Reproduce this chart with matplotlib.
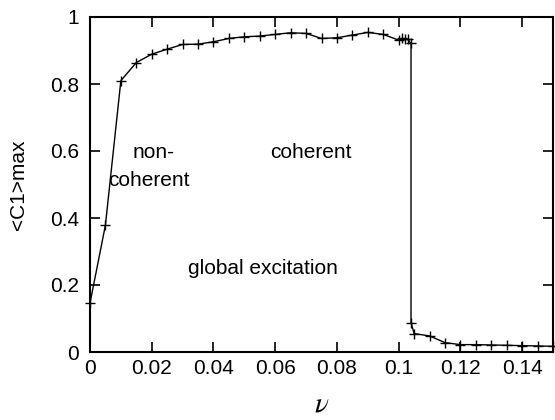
import matplotlib
matplotlib.use("Agg")
import matplotlib.pyplot as plt

plt.rcParams['font.family'] = ['Liberation Sans', 'DejaVu Sans']
plt.rcParams['mathtext.fontset'] = 'stix'

nu = [0.0, 0.005, 0.01, 0.015, 0.02, 0.025, 0.03, 0.035, 0.04, 0.045,
      0.05, 0.055, 0.06, 0.065, 0.07, 0.075, 0.08, 0.085, 0.09, 0.095,
      0.1, 0.101, 0.102, 0.103, 0.104, 0.104, 0.105, 0.11, 0.115, 0.12,
      0.125, 0.13, 0.135, 0.14, 0.145, 0.15]
c1max = [0.146, 0.379, 0.81, 0.864, 0.889, 0.904, 0.918, 0.919, 0.926, 0.936,
         0.941, 0.943, 0.948, 0.953, 0.951, 0.936, 0.938, 0.946, 0.954, 0.948,
         0.931, 0.936, 0.934, 0.933, 0.921, 0.088, 0.055, 0.048, 0.028, 0.022,
         0.022, 0.021, 0.020, 0.019, 0.018, 0.017]

xticks = [0, 0.02, 0.04, 0.06, 0.08, 0.1, 0.12, 0.14]
xticklabels = ['0', '0.02', '0.04', '0.06', '0.08', '0.1', '0.12', '0.14']
yticks = [0, 0.2, 0.4, 0.6, 0.8, 1]
yticklabels = ['0', '0.2', '0.4', '0.6', '0.8', '1']

fig = plt.figure(figsize=(5.55, 4.2), dpi=100)
ax = fig.add_axes([90/555, 1 - 352/420, (553-90)/555, (352-17)/420])

ax.plot(nu, c1max, color='black', lw=1.0, marker='+', markersize=7,
        markeredgewidth=1.0, clip_on=False)

ax.set_xlim(0, 0.15)
ax.set_ylim(0, 1)
ax.set_xticks(xticks)
ax.set_xticklabels(xticklabels)
ax.set_yticks(yticks)
ax.set_yticklabels(yticklabels)
ax.tick_params(direction='in', length=7, width=1.2, top=True, right=True,
               labelsize=15)
ax.tick_params(axis='x', pad=5)
ax.tick_params(axis='y', pad=8)
for s in ax.spines.values():
    s.set_linewidth(1.5)

ax.set_ylabel('<C1>max', fontsize=15, labelpad=16)
ax.set_xlabel(r'$\nu$', fontsize=21, labelpad=8)

ax.text(0.0139, 0.597, 'non-', fontsize=15, va='center', ha='left')
ax.text(0.0058, 0.513, 'coherent', fontsize=15, va='center', ha='left')
ax.text(0.0583, 0.597, 'coherent', fontsize=15, va='center', ha='left')
ax.text(0.0317, 0.25, 'global excitation', fontsize=15, va='center', ha='left')

fig.savefig('out.png', dpi=100)
